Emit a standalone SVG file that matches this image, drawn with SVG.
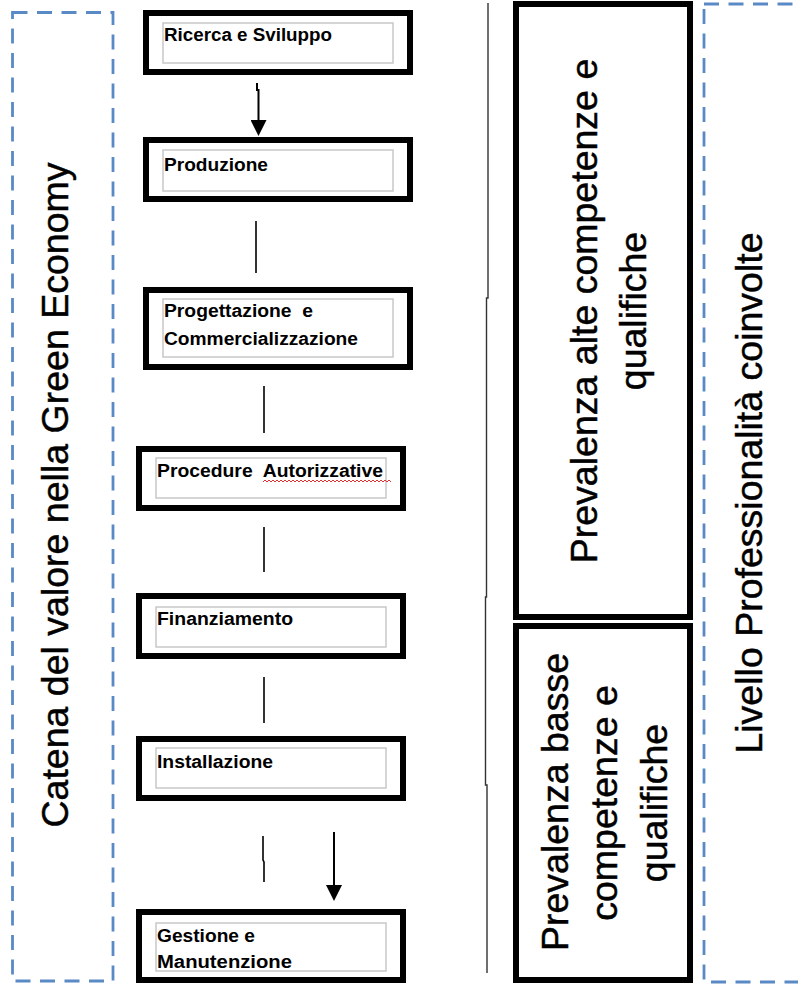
<svg xmlns="http://www.w3.org/2000/svg" width="798" height="984" viewBox="0 0 798 984">
<style>
.dash{fill:none;stroke:#5a8ac6;stroke-width:2.8;stroke-dasharray:15 9.5}
.box{fill:#fff;stroke:#000;stroke-width:6}
.inner{fill:none;stroke:#c8c8c8;stroke-width:1.5}
.lbl{font-family:"Liberation Sans",Arial,sans-serif;font-weight:bold;font-size:18px;fill:#000;white-space:pre}
.big{font-family:"Liberation Sans",Arial,sans-serif;font-size:37.5px;fill:#000;stroke:#000;stroke-width:0.45;text-anchor:middle}
.conn{fill:none;stroke:#000;stroke-width:1.6}
.arr{fill:none;stroke:#000;stroke-width:2}
</style>
<defs>
<marker id="ah" markerUnits="userSpaceOnUse" markerWidth="16" markerHeight="16" viewBox="0 0 16 16" refX="0" refY="8" orient="auto">
<path d="M0,0 L16,8 L0,16 Z" fill="#000"/>
</marker>
</defs>
<rect width="798" height="984" fill="#fff"/>

<g id="left-frame">
<rect class="dash" x="12.5" y="12.5" width="100.5" height="968.5"/>
<text class="big" transform="translate(68,495) rotate(-90)">Catena del valore nella Green Economy</text>
</g>

<g id="right-frame">
<rect class="dash" x="704" y="4" width="110" height="978"/>
<text class="big" transform="translate(762,493) rotate(-90)">Livello Professionalità coinvolte</text>
</g>

<g id="divider">
<path d="M488,3 V298 H486.5 V597 H485.5 V785 H487 V973" fill="none" stroke="#333" stroke-width="1.4"/>
</g>

<g id="high-skills">
<rect class="box" x="516" y="4" width="174" height="613"/>
<text class="big" transform="translate(597,311) rotate(-90)">Prevalenza alte competenze e</text>
<text class="big" transform="translate(646,311) rotate(-90)">qualifiche</text>
</g>

<g id="low-skills">
<rect class="box" x="516" y="626" width="174" height="354"/>
<text class="big" transform="translate(568,802) rotate(-90)">Prevalenza basse</text>
<text class="big" transform="translate(617,803) rotate(-90)">competenze e</text>
<text class="big" transform="translate(667,803) rotate(-90)">qualifiche</text>
</g>

<g id="connectors">
<path class="arr" d="M257,83 V90 H258.5 V120" marker-end="url(#ah)"/>
<path class="conn" d="M256,221 V273"/>
<path class="conn" d="M264,386 V433"/>
<path class="conn" d="M264,527 V572"/>
<path class="conn" d="M264,677 V723"/>
<path class="conn" d="M263,836 V860 L264,862 V882"/>
<path class="arr" d="M334,832 V885" marker-end="url(#ah)"/>
</g>

<g id="n1">
<rect class="box" x="146" y="13" width="264" height="59"/>
<rect class="inner" x="163" y="23" width="230" height="40"/>
<text class="lbl" x="164" y="41" textLength="168" lengthAdjust="spacingAndGlyphs">Ricerca e Sviluppo</text>
</g>

<g id="n2">
<rect class="box" x="146" y="140" width="264" height="59"/>
<rect class="inner" x="163" y="150" width="230" height="41"/>
<text class="lbl" x="164" y="171" textLength="104" lengthAdjust="spacingAndGlyphs">Produzione</text>
</g>

<g id="n3">
<rect class="box" x="146" y="290" width="264" height="77"/>
<rect class="inner" x="163" y="299" width="230" height="58"/>
<text class="lbl" x="164" y="317" textLength="149" lengthAdjust="spacingAndGlyphs">Progettazione  e</text>
<text class="lbl" x="164" y="345" textLength="194" lengthAdjust="spacingAndGlyphs">Commercializzazione</text>
</g>

<g id="n4">
<rect class="box" x="139" y="449" width="264" height="59"/>
<rect class="inner" x="156" y="458" width="230" height="40"/>
<text class="lbl" x="157" y="477" textLength="226" lengthAdjust="spacingAndGlyphs">Procedure  Autorizzative</text>
<path d="M263,482 l2,-2 l2,2 l2,-2 l2,2 l2,-2 l2,2 l2,-2 l2,2 l2,-2 l2,2 l2,-2 l2,2 l2,-2 l2,2 l2,-2 l2,2 l2,-2 l2,2 l2,-2 l2,2 l2,-2 l2,2 l2,-2 l2,2 l2,-2 l2,2 l2,-2 l2,2 l2,-2 l2,2 l2,-2 l2,2 l2,-2 l2,2 l2,-2 l2,2 l2,-2 l2,2 l2,-2 l2,2 l2,-2 l2,2 l2,-2 l2,2 l2,-2 l2,2 l2,-2 l2,2 l2,-2 l2,2 l2,-2 l2,2 l2,-2 l2,2 l2,-2 l2,2 l2,-2 l2,2 l2,-2 l2,2 l2,-2 l2,2 l2,-2 l2,2" fill="none" stroke="#e03030" stroke-width="1"/>
</g>

<g id="n5">
<rect class="box" x="139" y="596" width="264" height="60"/>
<rect class="inner" x="156" y="607" width="230" height="40"/>
<text class="lbl" x="157" y="625" textLength="136" lengthAdjust="spacingAndGlyphs">Finanziamento</text>
</g>

<g id="n6">
<rect class="box" x="139" y="739" width="264" height="59"/>
<rect class="inner" x="156" y="748" width="230" height="40"/>
<text class="lbl" x="157" y="768" textLength="116" lengthAdjust="spacingAndGlyphs">Installazione</text>
</g>

<g id="n7">
<rect class="box" x="139" y="912" width="264" height="68"/>
<rect class="inner" x="156" y="923" width="230" height="48"/>
<text class="lbl" x="157" y="942" textLength="98" lengthAdjust="spacingAndGlyphs">Gestione e</text>
<text class="lbl" x="157" y="968" textLength="135" lengthAdjust="spacingAndGlyphs">Manutenzione</text>
</g>
</svg>
